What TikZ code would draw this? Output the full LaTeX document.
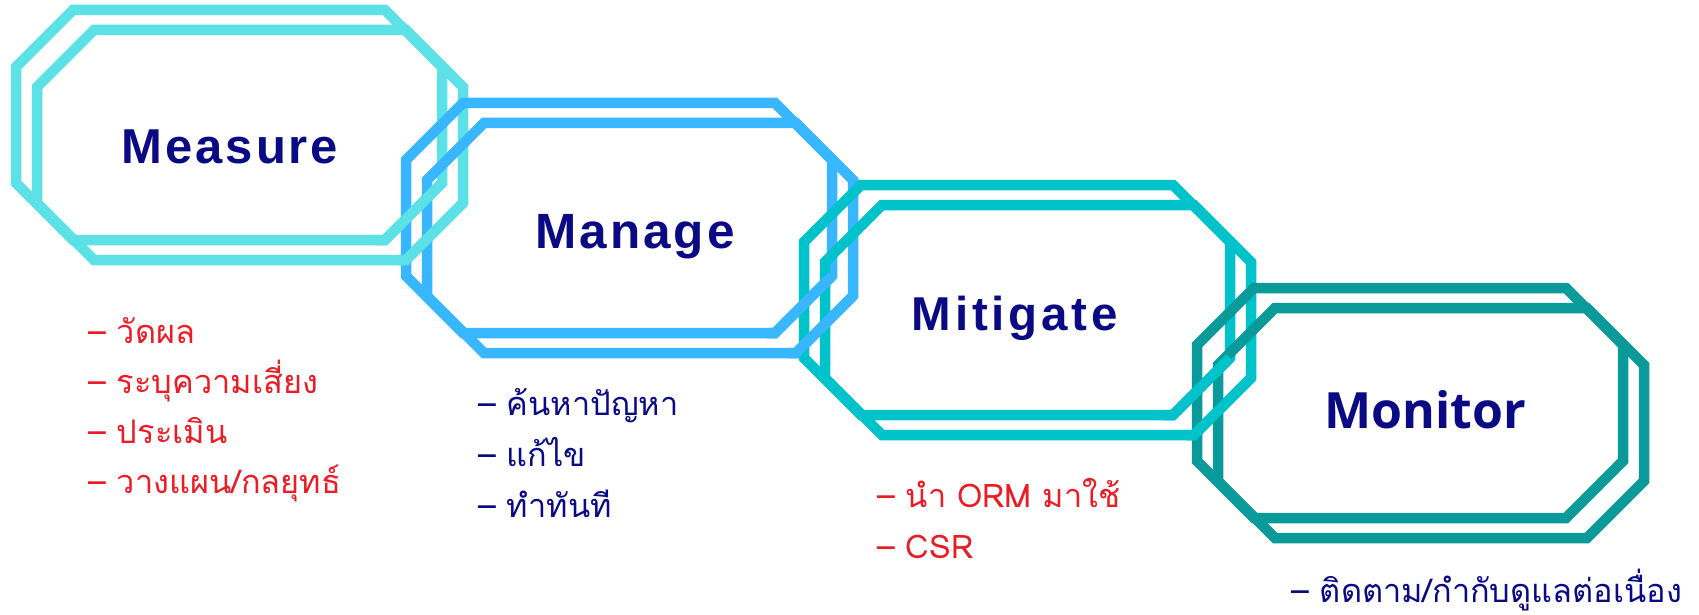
\documentclass[tikz,border=0pt]{standalone}
\usepackage{fontspec}
\setmainfont{Liberation Sans}
\newfontfamily\thaifont[Script=Thai]{Loma}
\newfontfamily\ttlfont{Liberation Sans}[LetterSpace=6]
\newfontfamily\mitfont{Liberation Sans}[LetterSpace=8]
\newfontfamily\monfont{Open Sans}
\definecolor{cMeasure}{HTML}{5CE1E6}
\definecolor{cManage}{HTML}{38B6FF}
\definecolor{cMitigate}{HTML}{00C2CB}
\definecolor{cMonitor}{HTML}{0A9A9A}
\definecolor{navytxt}{HTML}{0A0A85}
\definecolor{redtxt}{HTML}{EB1C24}
\tikzset{
  octo/.style={line width=10.5pt, line join=miter},
  frame/.pic={
    \draw[octo, pic actions] (57,0) -- (369,0) -- (426,57) -- (426,173) -- (369,230) -- (57,230) -- (0,173) -- (0,57) -- cycle;
    \draw[octo, pic actions] (78,20) -- (390,20) -- (447,77) -- (447,193) -- (390,250) -- (78,250) -- (21,193) -- (21,77) -- cycle;
  },
  frametail/.pic={
    \draw[octo, pic actions] (426,173) -- (369,230) -- (361,230);
    \draw[octo, pic actions] (447,193) -- (390,250) -- (382,250);
  },
  title/.style={anchor=base, text=navytxt},
  redlist/.style={anchor=base west, text=redtxt, font=\thaifont\fontsize{32.5}{38}\selectfont, inner sep=0pt},
  bluelist/.style={anchor=base west, text=navytxt, font=\thaifont\fontsize{32.5}{38}\selectfont, inner sep=0pt}
}
\begin{document}
\begin{tikzpicture}[x=1pt,y=-1pt]
\useasboundingbox[fill=white] (0,0) rectangle (1699,615);
% frames
\pic[draw=cMeasure] (fMeasure) at (16,10) {frame};
\pic[draw=cManage] (fManage) at (406,103) {frame};
\pic[draw=cMeasure] (tlMeasure) at (16,10) {frametail};
\pic[draw=cMitigate] (fMitigate) at (804,185) {frame};
\pic[draw=cManage] (tlManage) at (406,103) {frametail};
\pic[draw=cMonitor] (fMonitor) at (1197,288) {frame};
\pic[draw=cMitigate] (tlMitigate) at (804,185) {frametail};
% titles
\node[title, font=\ttlfont\bfseries\fontsize{49}{55}\selectfont] (tMeasure) at (230,163) {Measure};
\node[title, font=\ttlfont\bfseries\fontsize{49.5}{55}\selectfont] (tManage) at (635,248) {Manage};
\node[title, font=\mitfont\bfseries\fontsize{47.5}{53}\selectfont] (tMitigate) at (1015,330) {Mitigate};
\node[title, font=\monfont\bfseries\fontsize{50}{56}\selectfont] (tMonitor) at (1425,428) {Monitor};
% lists
\node[redlist] (a1) at (88,343) {– วัดผล};
\node[redlist] (a2) at (88,393) {– ระบุความเสี่ยง};
\node[redlist] (a3) at (88,443) {– ประเมิน};
\node[redlist] (a4) at (88,493) {– วางแผน/กลยุทธ์};
\node[bluelist] (b1) at (478,415) {– ค้นหาปัญหา};
\node[bluelist] (b2) at (478,466) {– แก้ไข};
\node[bluelist] (b3) at (478,517) {– ทำทันที};
\node[redlist] (c1) at (877,507) {– นำ ORM มาใช้};
\node[redlist] (c2) at (877,558) {– CSR};
\node[bluelist] (d1) at (1291,602) {– ติดตาม/กำกับดูแลต่อเนื่อง};
\end{tikzpicture}
\end{document}
